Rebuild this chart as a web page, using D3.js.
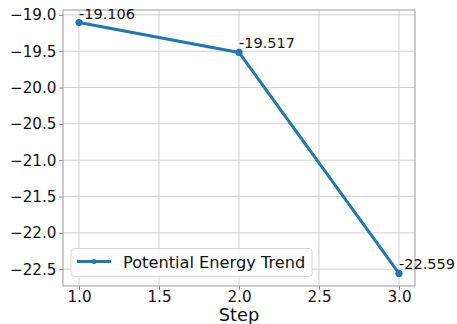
<!DOCTYPE html>
<html><head><meta charset="utf-8">
<script src="https://cdn.jsdelivr.net/npm/d3@7"></script>
<style>body{margin:0;background:#fff}svg{display:block;font-family:"DejaVu Sans",sans-serif}</style>
</head><body><svg id="c" width="457" height="324"></svg>
<script>
const steps = [1, 2, 3];
const energies = [-19.106, -19.517, -22.559];
const labels = ["-19.106", "-19.517", "-22.559"];
const xTicks = [1.0, 1.5, 2.0, 2.5, 3.0];
const yTicks = [-19.0, -19.5, -20.0, -20.5, -21.0, -21.5, -22.0, -22.5];
const seriesName = "Potential Energy Trend";
const xLabel = "Step";

const svg = d3.select("#c");
const L = 63, R = 415, T = 10, B = 286;
const x = d3.scaleLinear().domain([0.9, 3.1]).range([L, R]);
const y = d3.scaleLinear().domain([-18.93265, -22.73165]).range([T, B]);
const fmt = v => (v < 0 ? "\u2212" : "") + Math.abs(v).toFixed(1);

// grid
svg.append("g").selectAll("line").data(xTicks).join("line")
  .attr("x1", d => x(d)).attr("x2", d => x(d)).attr("y1", T).attr("y2", B)
  .attr("stroke", "#d0d0d0").attr("stroke-width", 1);
svg.append("g").selectAll("line").data(yTicks).join("line")
  .attr("x1", L).attr("x2", R).attr("y1", d => y(d)).attr("y2", d => y(d))
  .attr("stroke", "#d0d0d0").attr("stroke-width", 1);

// axes
const xa = svg.append("g").attr("transform", `translate(0,${B})`)
  .call(d3.axisBottom(x).tickValues(xTicks).tickFormat(d => d.toFixed(1)).tickSize(4).tickPadding(1.5));
const ya = svg.append("g").attr("transform", `translate(${L},0)`)
  .call(d3.axisLeft(y).tickValues(yTicks).tickFormat(fmt).tickSize(4).tickPadding(2.5));
[xa, ya].forEach(a => {
  a.select(".domain").remove();
  a.selectAll("line").attr("stroke", "#888");
  a.selectAll("text").attr("font-size", 15.2).attr("fill", "#111").attr("font-family", "DejaVu Sans");
});
// spines
svg.append("rect").attr("x", L).attr("y", T).attr("width", R - L).attr("height", B - T)
  .attr("fill", "none").attr("stroke", "#999").attr("stroke-width", 1);

svg.append("text").attr("x", (L + R) / 2).attr("y", 320.5).attr("text-anchor", "middle")
  .attr("font-size", 17.8).attr("fill", "#111").text(xLabel);

// line
const data = steps.map((s, i) => ({s, e: energies[i], l: labels[i]}));
svg.append("path").datum(data)
  .attr("d", d3.line().x(d => x(d.s)).y(d => y(d.e)))
  .attr("fill", "none").attr("stroke", "#1f77b4").attr("stroke-width", 3).attr("stroke-linejoin", "round");
svg.append("g").selectAll("circle").data(data).join("circle")
  .attr("cx", d => x(d.s)).attr("cy", d => y(d.e)).attr("r", 3.6).attr("fill", "#1f77b4");
svg.append("g").selectAll("text").data(data).join("text")
  .attr("x", d => x(d.s)).attr("y", d => y(d.e) - 4)
  .attr("font-size", 14.5).attr("fill", "#111").text(d => d.l);

// legend
const lg = svg.append("g");
lg.append("rect").attr("x", 71).attr("y", 248.5).attr("width", 241).attr("height", 28).attr("rx", 3)
  .attr("fill", "#fff").attr("fill-opacity", 0.8).attr("stroke", "#d8d8d8");
lg.append("line").attr("x1", 77).attr("x2", 111).attr("y1", 261.5).attr("y2", 261.5)
  .attr("stroke", "#1f77b4").attr("stroke-width", 3);
lg.append("circle").attr("cx", 94).attr("cy", 261.5).attr("r", 2.5).attr("fill", "#1f77b4");
lg.append("text").attr("x", 123).attr("y", 267.5).attr("font-size", 16.2).attr("fill", "#111").text(seriesName);
</script></body></html>
